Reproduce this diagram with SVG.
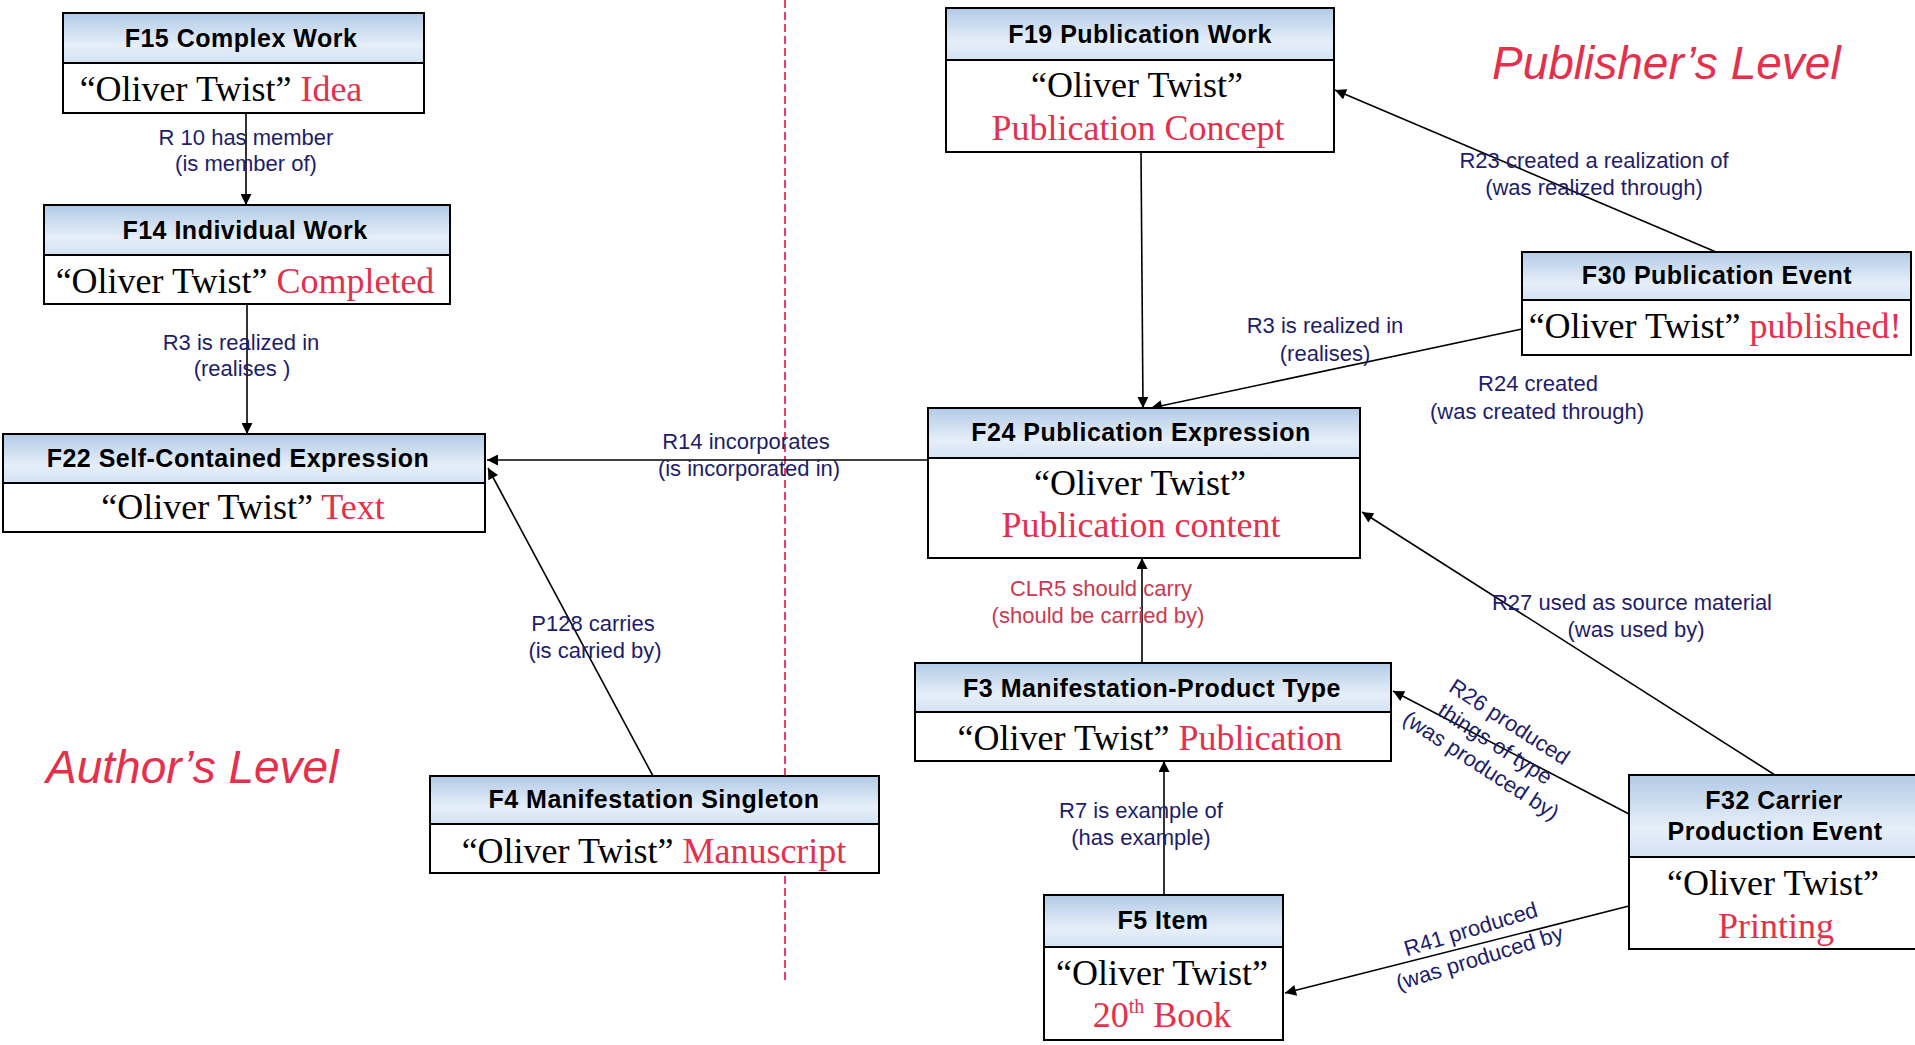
<svg xmlns="http://www.w3.org/2000/svg" width="1915" height="1045" viewBox="0 0 1915 1045">
<defs>
<linearGradient id="hg" x1="0" y1="0" x2="0" y2="1">
<stop offset="0" stop-color="#b2cae6"/>
<stop offset="0.65" stop-color="#e6eff9"/>
<stop offset="1" stop-color="#d3e2f3"/>
</linearGradient>
<marker id="ah" viewBox="0 0 10 10" refX="10" refY="5" markerWidth="12" markerHeight="11" markerUnits="userSpaceOnUse" orient="auto">
<path d="M0,0 L10,5 L0,10 z" fill="#000"/>
</marker>
<style>
.hdr{fill:url(#hg);stroke:#000;stroke-width:2}
.bdy{fill:#fff;stroke:#000;stroke-width:2}
.ht{font-family:"Liberation Sans",Arial,sans-serif;font-weight:bold;font-size:25px;letter-spacing:0.5px;fill:#000;text-anchor:middle}
.bt{font-family:"Liberation Serif","Times New Roman",serif;font-size:36px;fill:#000;text-anchor:middle}
.red{fill:#e5304d}
.lbl{font-family:"Liberation Sans",Arial,sans-serif;font-size:22px;fill:#1d1d6b;text-anchor:middle}
.lred{fill:#c83a52}
.conn{fill:none;stroke:#000;stroke-width:1.6;marker-end:url(#ah)}
.lvl{font-family:"Liberation Sans",Arial,sans-serif;font-style:italic;font-size:46px;fill:#e5304d}
</style>
</defs>
<rect x="0" y="0" width="1915" height="1045" fill="#fff"/>

<line x1="785" y1="0" x2="785" y2="983" stroke="#e5406a" stroke-width="2" stroke-dasharray="8 4"/>

<text class="lvl" x="1492" y="79">Publisher’s Level</text>
<text class="lvl" x="46" y="783">Author’s Level</text>

<g id="connectors">
<line class="conn" x1="246" y1="113" x2="246" y2="205"/>
<line class="conn" x1="247" y1="304" x2="247" y2="434"/>
<line class="conn" x1="928" y1="460" x2="487" y2="460"/>
<line class="conn" x1="653" y1="776" x2="488" y2="468"/>
<line class="conn" x1="1141" y1="152" x2="1143" y2="408"/>
<line class="conn" x1="1522" y1="329" x2="1151" y2="408"/>
<line class="conn" x1="1716" y1="252" x2="1335" y2="90"/>
<line class="conn" x1="1775" y1="775" x2="1362" y2="512"/>
<line class="conn" x1="1142" y1="663" x2="1142" y2="558"/>
<line class="conn" x1="1629" y1="814" x2="1393" y2="691"/>
<line class="conn" x1="1164" y1="895" x2="1164" y2="761"/>
<line class="conn" x1="1629" y1="906" x2="1285" y2="993"/>
</g>

<g id="labels">
<text class="lbl" x="246" y="145">R 10 has member</text>
<text class="lbl" x="246" y="171">(is member of)</text>
<text class="lbl" x="241" y="350">R3 is realized in</text>
<text class="lbl" x="242" y="376">(realises )</text>
<text class="lbl" x="746" y="449">R14 incorporates</text>
<text class="lbl" x="749" y="476">(is incorporated in)</text>
<text class="lbl" x="593" y="631">P128 carries</text>
<text class="lbl" x="595" y="658">(is carried by)</text>
<text class="lbl" x="1594" y="168">R23 created a realization of</text>
<text class="lbl" x="1594" y="195">(was realized through)</text>
<text class="lbl" x="1325" y="333">R3 is realized in</text>
<text class="lbl" x="1325" y="361">(realises)</text>
<text class="lbl" x="1538" y="391">R24 created</text>
<text class="lbl" x="1537" y="419">(was created through)</text>
<text class="lbl lred" x="1101" y="596">CLR5 should carry</text>
<text class="lbl lred" x="1098" y="623">(should be carried by)</text>
<text class="lbl" x="1632" y="610">R27 used as source material</text>
<text class="lbl" x="1636" y="637">(was used by)</text>
<text class="lbl" x="1141" y="818">R7 is example of</text>
<text class="lbl" x="1141" y="845">(has example)</text>
<g transform="rotate(33 1495 744)">
<text class="lbl" x="1495" y="725">R26 produced</text>
<text class="lbl" x="1495" y="751">things of type</text>
<text class="lbl" x="1495" y="777">(was produced by)</text>
</g>
<g transform="rotate(-17 1475 943)">
<text class="lbl" x="1475" y="936">R41 produced</text>
<text class="lbl" x="1475" y="966">(was produced by</text>
</g>
</g>

<g id="F15">
<rect class="hdr" x="63" y="13" width="361" height="50"/>
<rect class="bdy" x="63" y="63" width="361" height="50"/>
<text class="ht" x="241" y="47">F15 Complex Work</text>
<text class="bt" x="221" y="101">“Oliver Twist” <tspan class="red">Idea</tspan></text>
</g>

<g id="F14">
<rect class="hdr" x="44" y="205" width="406" height="50"/>
<rect class="bdy" x="44" y="255" width="406" height="49"/>
<text class="ht" x="245" y="239">F14 Individual Work</text>
<text class="bt" x="245" y="293">“Oliver Twist” <tspan class="red">Completed</tspan></text>
</g>

<g id="F22">
<rect class="hdr" x="3" y="434" width="482" height="49"/>
<rect class="bdy" x="3" y="483" width="482" height="49"/>
<text class="ht" x="238" y="467">F22 Self-Contained Expression</text>
<text class="bt" x="243" y="519">“Oliver Twist” <tspan class="red">Text</tspan></text>
</g>

<g id="F19">
<rect class="hdr" x="946" y="8" width="388" height="52"/>
<rect class="bdy" x="946" y="60" width="388" height="92"/>
<text class="ht" x="1140" y="43">F19 Publication Work</text>
<text class="bt" x="1137" y="97">“Oliver Twist”</text>
<text class="bt red" x="1138" y="140">Publication Concept</text>
</g>

<g id="F30">
<rect class="hdr" x="1522" y="252" width="389" height="48"/>
<rect class="bdy" x="1522" y="300" width="389" height="55"/>
<text class="ht" x="1717" y="284">F30 Publication Event</text>
<text class="bt" x="1715" y="338">“Oliver Twist” <tspan class="red">published!</tspan></text>
</g>

<g id="F24">
<rect class="hdr" x="928" y="408" width="432" height="50"/>
<rect class="bdy" x="928" y="458" width="432" height="100"/>
<text class="ht" x="1141" y="441">F24 Publication Expression</text>
<text class="bt" x="1140" y="495">“Oliver Twist”</text>
<text class="bt red" x="1141" y="537">Publication content</text>
</g>

<g id="F3">
<rect class="hdr" x="915" y="663" width="476" height="49"/>
<rect class="bdy" x="915" y="712" width="476" height="49"/>
<text class="ht" x="1152" y="697">F3 Manifestation-Product Type</text>
<text class="bt" x="1150" y="750">“Oliver Twist” <tspan class="red">Publication</tspan></text>
</g>

<g id="F4">
<rect class="hdr" x="430" y="776" width="449" height="48"/>
<rect class="bdy" x="430" y="824" width="449" height="49"/>
<text class="ht" x="654" y="808">F4 Manifestation Singleton</text>
<text class="bt" x="654" y="863">“Oliver Twist” <tspan class="red">Manuscript</tspan></text>
</g>

<g id="F5">
<rect class="hdr" x="1044" y="895" width="239" height="52"/>
<rect class="bdy" x="1044" y="947" width="239" height="93"/>
<text class="ht" x="1163" y="929">F5 Item</text>
<text class="bt" x="1162" y="985">“Oliver Twist”</text>
<text class="bt red" x="1162" y="1027">20<tspan font-size="20" dy="-14">th</tspan><tspan dy="14"> Book</tspan></text>
</g>

<g id="F32">
<rect class="hdr" x="1629" y="775" width="292" height="82"/>
<rect class="bdy" x="1629" y="857" width="292" height="92"/>
<text class="ht" x="1774" y="809">F32 Carrier</text>
<text class="ht" x="1775" y="840">Production Event</text>
<text class="bt" x="1773" y="895">“Oliver Twist”</text>
<text class="bt red" x="1776" y="938">Printing</text>
</g>
</svg>
